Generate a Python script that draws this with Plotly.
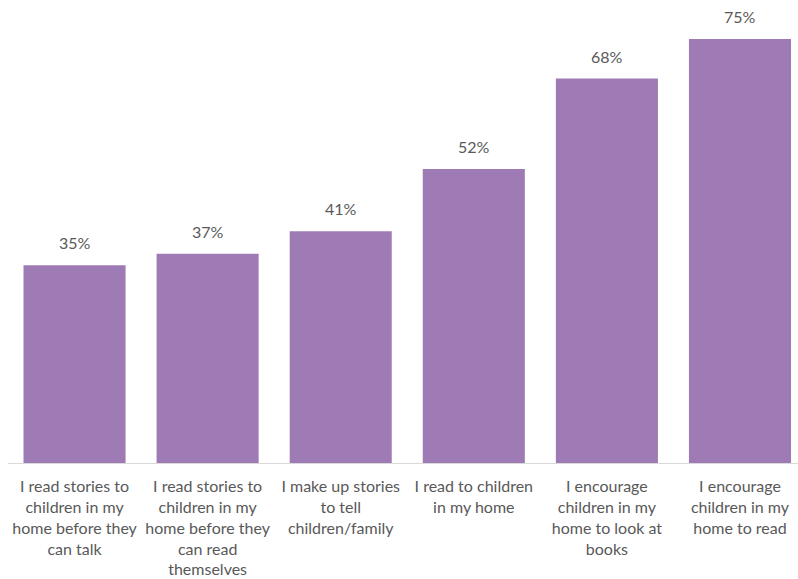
import plotly.graph_objects as go

categories = [
    "I read stories to<br>children in my<br>home before they<br>can talk",
    "I read stories to<br>children in my<br>home before they<br>can read<br>themselves",
    "I make up stories<br>to tell<br>children/family",
    "I read to children<br>in my home",
    "I encourage<br>children in my<br>home to look at<br>books",
    "I encourage<br>children in my<br>home to read",
]
values = [35, 37, 41, 52, 68, 75]
labels = [f"{v}%" for v in values]

fig = go.Figure()
fig.add_trace(go.Bar(
    x=categories, y=values,
    marker=dict(color="#9E7BB5", line=dict(width=0)),
    hoverinfo="skip",
))
for c, v, t in zip(categories, values, labels):
    fig.add_annotation(x=c, y=v, text=t, showarrow=False, yanchor="bottom",
                       yshift=11, font=dict(family="Lato", size=16, color="#595959"))

fig.update_layout(
    width=798, height=579,
    margin=dict(l=8, r=0, t=0, b=116),
    paper_bgcolor="white", plot_bgcolor="white",
    bargap=0.233,
    showlegend=False,
    font=dict(family="Lato", size=16, color="#595959"),
    xaxis=dict(range=[-0.5, 5.436], showline=True, linecolor="#D9D9D9", linewidth=1,
               showgrid=False, ticks="", tickangle=0, ticklabelstandoff=9,
               tickfont=dict(family="Lato", size=16, color="#595959")),
    yaxis=dict(range=[0, 81.9], visible=False, showgrid=False, zeroline=False),
)
fig.write_html("out.html")
